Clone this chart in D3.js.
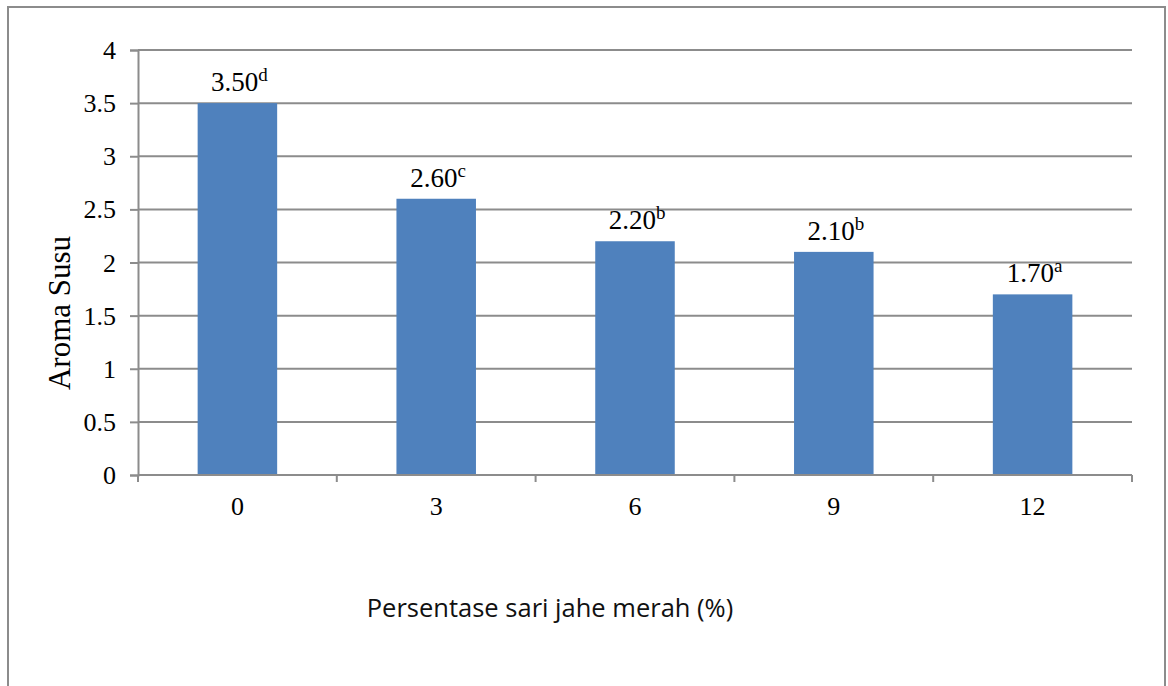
<!DOCTYPE html>
<html>
<head>
<meta charset="utf-8">
<script src="https://cdn.jsdelivr.net/npm/d3@7"></script>
<style>
  html, body { margin: 0; padding: 0; background: #fff; }
  svg { display: block; }
</style>
</head>
<body>
<svg id="chart" width="1168" height="686"></svg>
<script>
// Aroma score of milk by red ginger juice percentage
const categories = ["0", "3", "6", "9", "12"];
const values = [3.50, 2.60, 2.20, 2.10, 1.70];
const letters = ["d", "c", "b", "b", "a"];
const yTicks = [0, 0.5, 1, 1.5, 2, 2.5, 3, 3.5, 4];
const xTitle = "Persentase sari jahe merah (%)";
const yTitle = "Aroma Susu";

const svg = d3.select("#chart");
const gridColor = "#8c8c8c";
const barColor = "#4f81bd";
const serif = "'Liberation Serif', 'Times New Roman', serif";

// outer frame
svg.append("rect")
  .attr("x", 8).attr("y", 7)
  .attr("width", 1157).attr("height", 700)
  .attr("fill", "none")
  .attr("stroke", gridColor)
  .attr("stroke-width", 2);

const plotLeft = 138, plotRight = 1132, plotTop = 50, plotBottom = 475;

const x = d3.scaleBand()
  .domain(categories)
  .range([plotLeft, plotRight])
  .paddingInner(0.6)
  .paddingOuter(0.3);

const y = d3.scaleLinear().domain([0, 4]).range([plotBottom, plotTop]);

// horizontal gridlines
svg.append("g")
  .selectAll("line")
  .data(yTicks.filter(d => d > 0))
  .join("line")
  .attr("x1", plotLeft).attr("x2", plotRight)
  .attr("y1", d => y(d)).attr("y2", d => y(d))
  .attr("stroke", gridColor)
  .attr("stroke-width", 2);

// bars
svg.append("g")
  .selectAll("rect")
  .data(values)
  .join("rect")
  .attr("x", (d, i) => x(categories[i]))
  .attr("y", d => y(d))
  .attr("width", x.bandwidth())
  .attr("height", d => y(0) - y(d))
  .attr("fill", barColor);

// y axis
const yAxis = svg.append("g")
  .attr("transform", `translate(${plotLeft},0)`)
  .call(d3.axisLeft(y).tickValues(yTicks).tickFormat(d3.format("")).tickSize(8).tickPadding(14));
yAxis.select(".domain").attr("stroke", gridColor).attr("stroke-width", 2);
yAxis.selectAll(".tick line").attr("stroke", gridColor).attr("stroke-width", 2);
yAxis.selectAll(".tick text")
  .attr("fill", "#000")
  .style("font-family", serif)
  .style("font-size", "26px")
  .attr("dy", "0.33em");

// x axis with tick marks on the category boundaries
const xAxisG = svg.append("g").attr("transform", `translate(0,${plotBottom})`);
xAxisG.append("line")
  .attr("x1", plotLeft).attr("x2", plotRight)
  .attr("y1", 0).attr("y2", 0)
  .attr("stroke", gridColor).attr("stroke-width", 2);
const bounds = categories.map((c, i) => plotLeft + i * x.step()).concat([plotRight]);
xAxisG.selectAll("line.tk")
  .data(bounds)
  .join("line")
  .attr("class", "tk")
  .attr("x1", d => d).attr("x2", d => d)
  .attr("y1", 0).attr("y2", 7)
  .attr("stroke", gridColor).attr("stroke-width", 2);
xAxisG.selectAll("text")
  .data(categories)
  .join("text")
  .attr("x", d => x(d) + x.bandwidth() / 2)
  .attr("y", 40)
  .attr("text-anchor", "middle")
  .style("font-family", serif)
  .style("font-size", "26px")
  .text(d => d);

// value labels with significance letters
const labels = svg.append("g")
  .selectAll("text")
  .data(values)
  .join("text")
  .attr("x", (d, i) => x(categories[i]) + x.bandwidth() / 2 + 2)
  .attr("y", d => y(d) - 12)
  .attr("text-anchor", "middle")
  .style("font-family", serif)
  .style("font-size", "27px");
labels.append("tspan").text(d => d3.format(".2f")(d));
labels.append("tspan")
  .attr("dy", -10)
  .style("font-size", "19px")
  .text((d, i) => letters[i]);

// axis titles
svg.append("text")
  .attr("transform", `translate(70,313) rotate(-90)`)
  .attr("text-anchor", "middle")
  .style("font-family", serif)
  .style("font-size", "31px")
  .text(yTitle);

svg.append("text")
  .attr("x", 550)
  .attr("y", 617)
  .attr("text-anchor", "middle")
  .style("font-family", "'Open Sans', 'Noto Sans', sans-serif")
  .style("font-size", "25.5px")
  .attr("fill", "#111")
  .text(xTitle);
</script>
</body>
</html>
